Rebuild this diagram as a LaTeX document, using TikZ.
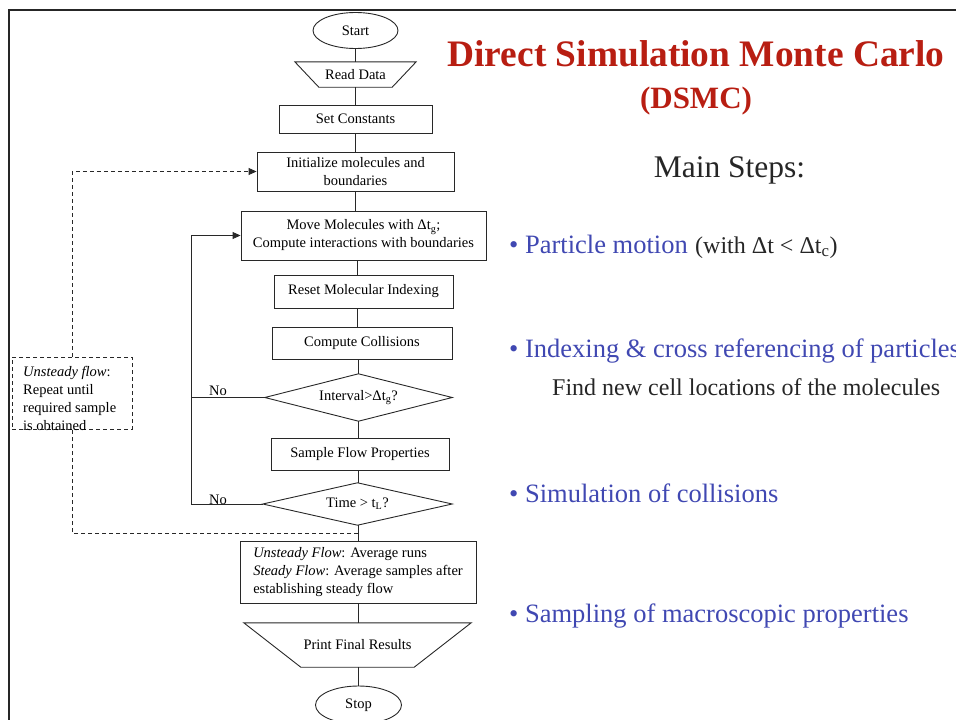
\documentclass[tikz,border=0pt]{standalone}
\usepackage{fontspec}
\setmainfont{Liberation Serif}
\usetikzlibrary{shapes.geometric,arrows.meta,calc}
\definecolor{titlered}{RGB}{184,30,18}
\definecolor{bulletblue}{RGB}{64,72,178}
\definecolor{linec}{RGB}{40,40,40}
\definecolor{framec}{RGB}{38,38,38}
\newcommand{\fcsize}{\fontsize{14.5}{18}\selectfont}
\begin{document}
\begin{tikzpicture}[x=1pt,y=-1pt,
  fcbox/.style={draw=linec, line width=0.9pt, rectangle, inner sep=0pt, align=center, font=\fcsize},
  fcplain/.style={rectangle, inner sep=0pt, align=center, font=\fcsize},
  fcell/.style={draw=linec, line width=0.9pt, ellipse, inner sep=0pt, font=\fcsize},
  fcline/.style={draw=linec, line width=0.9pt},
  fcarrow/.style={fcline, -{Triangle[length=8pt,width=7pt]}},
  fcdash/.style={fcline, dash pattern=on 4pt off 3pt},
  bul/.style={anchor=base west, inner sep=0pt, text=bulletblue, font=\fontsize{26.5}{30}\selectfont},
  sub/.style={anchor=base west, inner sep=0pt, font=\fontsize{24}{28}\selectfont},
]
\useasboundingbox (0,0) rectangle (956,720);
% frame
\draw[framec, line width=2.6pt] (9,740) -- (9,10) -- (980,10);

% flowchart nodes
\node[fcell, minimum width=85pt, minimum height=36pt] (start) at (355.5,30.5) {Start};
\node[fcplain, minimum width=121pt, minimum height=25pt] (rd) at (355.5,74.5) {Read Data};
\draw[fcline] (rd.north west) -- (rd.north east) -- ([xshift=-24pt]rd.south east) -- ([xshift=24pt]rd.south west) -- cycle;
\node[fcbox, minimum width=153pt, minimum height=28pt] (sc) at (355.5,119) {Set Constants};
\node[fcbox, minimum width=197pt, minimum height=39pt] (init) at (355.5,171.5) {Initialize molecules and\\boundaries};
\node[fcbox, minimum width=245pt, minimum height=49pt] (move) at (363.5,235.5) {Move Molecules with Δt\textsubscript{g};\\Compute interactions with boundaries};
\node[fcbox, minimum width=179pt, minimum height=33pt] (reset) at (363.5,291.5) {Reset Molecular Indexing};
\node[fcbox, minimum width=180pt, minimum height=32pt] (cc) at (362,343) {Compute Collisions};
\node[fcplain, minimum width=187pt, minimum height=47pt] (d1) at (358.5,397.5) {Interval>Δt\textsubscript{g}?};
\draw[fcline] (d1.west) -- (d1.north) -- (d1.east) -- (d1.south) -- cycle;
\node[fcbox, minimum width=178pt, minimum height=32pt] (sfp) at (360,454) {Sample Flow Properties};
\node[fcplain, minimum width=189pt, minimum height=42pt] (d2) at (357.5,504) {Time > t\textsubscript{L}?};
\draw[fcline] (d2.west) -- (d2.north) -- (d2.east) -- (d2.south) -- cycle;
\node[fcbox, align=left, minimum width=236pt, minimum height=62pt] (avg) at (358,572) {\textit{Unsteady Flow}: Average runs\\\textit{Steady Flow}: Average samples after\\establishing steady flow};
\node[fcplain, minimum width=227pt, minimum height=44pt] (pfr) at (357.5,645) {Print Final Results};
\draw[fcline] (pfr.north west) -- (pfr.north east) -- ([xshift=-57pt]pfr.south east) -- ([xshift=57pt]pfr.south west) -- cycle;
\node[fcell, minimum width=86pt, minimum height=38pt] (stop) at (358.5,705) {Stop};

% dashed note box
\node[fcdash, rectangle, minimum width=120pt, minimum height=72pt, inner sep=0pt] (ub) at (72,393) {};
\node[anchor=north west, align=left, inner sep=0pt, font=\fcsize] (ubt) at (23,366.5) {\textit{Unsteady flow}:\\Repeat until\\required sample\\is obtained};

% column coordinates
\coordinate (colA) at (357,0);
\coordinate (colB) at (358,0);
\coordinate (lx) at (191,235.5);
\coordinate (dj) at (358,533);

% main connectors
\draw[fcline] (start.south) -- (start.south |- rd.north);
\draw[fcline] (rd.south) -- (rd.south |- sc.north);
\draw[fcline] (sc.south) -- (sc.south |- init.north);
\draw[fcline] (init.south) -- (init.south |- move.north);
\draw[fcline] (colA |- move.south) -- (colA |- reset.north);
\draw[fcline] (colA |- reset.south) -- (colA |- cc.north);
\draw[fcline] (colB |- cc.south) -- (colB |- d1.north);
\draw[fcline] (colB |- d1.south) -- (colB |- sfp.north);
\draw[fcline] (colB |- sfp.south) -- (colB |- d2.north);
\draw[fcline] (colB |- d2.south) -- (colB |- avg.north);
\draw[fcline] (colB |- avg.south) -- (colB |- pfr.north);
\draw[fcline] (colB |- pfr.south) -- (colB |- stop.north);

% loops
\draw[fcline] (d1.west) -- (d1.west -| lx);
\draw[fcarrow] (d2.west) -| (lx) -- (move.west);
\node[inner sep=0pt, font=\fcsize] (no1) at (218,391) {No};
\node[inner sep=0pt, font=\fcsize] (no2) at (218,500) {No};

% dashed loop
\draw[fcdash] (dj) -| (ub.south);
\draw[fcdash, -{Triangle[length=8pt,width=7pt]}] (ub.north) |- (init.west);

% right side text
\node[anchor=base, inner sep=0pt, text=titlered, font=\bfseries\fontsize{37.4}{41}\selectfont] (title) at (696,66.5) {Direct Simulation Monte Carlo};
\node[anchor=base, inner sep=0pt, text=titlered, font=\bfseries\fontsize{31}{35}\selectfont] (dsmc) at (696,108) {(DSMC)};
\node[anchor=base, inner sep=0pt, text=black!85, font=\fontsize{31.5}{35}\selectfont] (ms) at (729.5,177) {Main Steps:};
\node[bul] (b1) at (509,253) {• Particle motion};
\node[sub, text=black!85] (b1s) at (695,253) {(with Δt < Δt\textsubscript{c})};
\node[bul] (b2) at (509,357) {• Indexing \& cross referencing of particles};
\node[sub, text=black!85] (b2s) at (552,395) {Find new cell locations of the molecules};
\node[bul] (b3) at (509,502) {• Simulation of collisions};
\node[bul] (b4) at (509,622) {• Sampling of macroscopic properties};
\end{tikzpicture}
\end{document}
